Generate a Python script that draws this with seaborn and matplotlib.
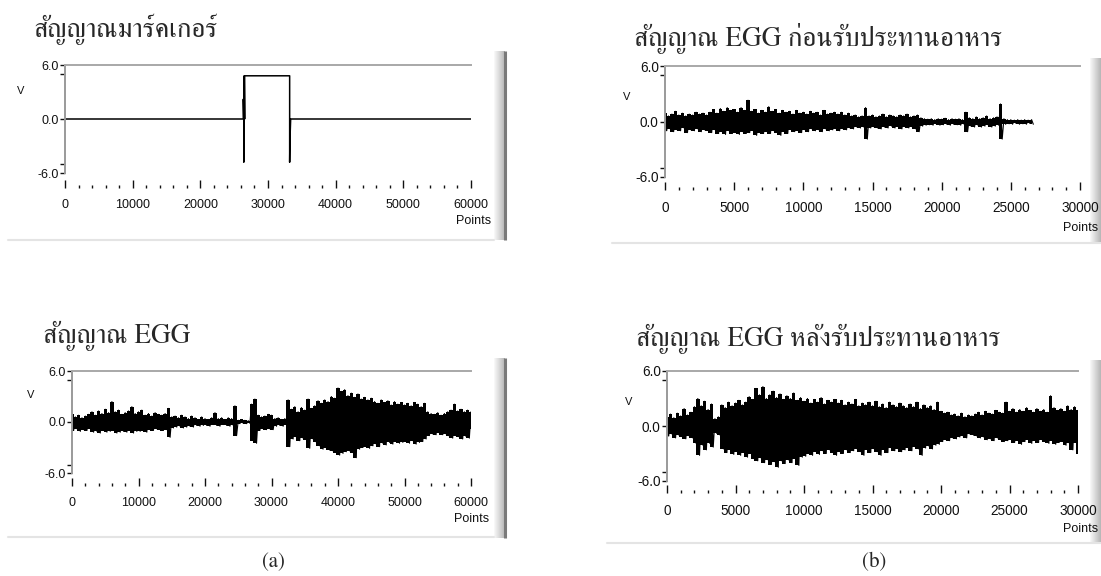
import numpy as np
import matplotlib
matplotlib.use("Agg")
import matplotlib.pyplot as plt
import seaborn as sns
from matplotlib.ticker import MultipleLocator, FixedLocator, FormatStrFormatter

# ---- data ----
# marker signal (volts) with its sample index
marker_x = [0, 26350, 26350, 26420, 26420, 26480, 26550, 26550, 33200, 33200, 33280, 33280, 33350, 60000]
marker_y = [0, 0, 2.2, 0, -4.8, 4.8, 0, 4.8, 4.8, -4.8, 0, -1.5, 0, 0]

# EGG whole recording: upper / lower peaks every 500 points
egg_step = 500
egg_hi = [0.9, 0.6, 0.8, 0.5, 0.7, 0.9, 1.2, 0.8, 1.3, 1.0,
          1.5, 1.1, 2.4, 1.2, 1.4, 0.9, 1.1, 1.3, 1.8, 1.0,
          1.2, 1.4, 0.8, 1.0, 0.7, 1.1, 0.9, 0.8, 1.0, 1.6,
          0.6, 0.7, 0.5, 0.8, 0.6, 0.4, 0.7, 0.5, 0.3, 0.6,
          0.4, 0.3, 0.5, 1.1, 0.4, 0.5, 0.3, 0.5, 0.4, 1.9,
          0.2, 0.3, 0.2, 0.15, 2.1, 2.7, 0.8, 0.6, 0.7, 0.9,
          0.8, 0.4, 0.5, 0.3, 0.4, 2.6, 1.5, 1.8, 1.2, 1.7,
          1.4, 2.7, 1.6, 1.9, 2.5, 2.2, 2.6, 2.4, 3.0, 2.8,
          4.0, 3.6, 3.8, 3.1, 3.4, 2.9, 3.3, 2.7, 2.9, 2.6,
          2.8, 2.4, 2.2, 2.6, 2.3, 2.5, 2.0, 2.4, 2.1, 2.3,
          2.0, 2.2, 1.9, 2.3, 2.1, 1.8, 2.2, 1.2, 1.0, 0.9,
          1.1, 0.8, 1.0, 1.2, 1.4, 2.1, 1.3, 1.5, 1.2, 1.4,
          1.2]
egg_lo = [-1.0, -0.8, -1.1, -0.9, -1.0, -0.8, -1.2, -1.1, -1.3, -1.0,
          -1.2, -1.1, -1.0, -1.3, -1.2, -1.1, -1.2, -1.0, -1.3, -1.1,
          -1.1, -1.0, -1.2, -0.9, -1.0, -0.8, -0.9, -1.0, -0.9, -1.8,
          -0.7, -0.6, -0.5, -0.7, -0.6, -0.5, -0.6, -0.4, -0.5, -0.4,
          -0.4, -0.5, -0.3, -0.4, -0.5, -0.3, -0.4, -0.5, -0.4, -1.6,
          -0.2, -0.15, -0.2, -0.15, -2.2, -2.5, -1.0, -0.8, -0.9, -0.8,
          -0.9, -0.5, -0.4, -0.5, -0.3, -2.9, -2.0, -1.8, -2.2, -1.9,
          -2.1, -3.1, -2.0, -2.4, -2.8, -3.2, -3.0, -3.3, -3.4, -3.6,
          -3.9, -3.7, -3.5, -3.4, -3.6, -4.2, -3.2, -3.0, -2.9, -3.1,
          -2.8, -2.6, -2.9, -2.5, -2.7, -2.4, -2.6, -2.3, -2.5, -2.4,
          -2.3, -2.5, -2.2, -2.6, -2.4, -2.3, -2.0, -1.6, -1.4, -1.5,
          -1.3, -1.5, -1.4, -1.7, -1.9, -1.6, -1.8, -2.0, -1.7, -1.9,
          -0.8]

# EGG before meal: peaks every 250 points
pre_step = 250
pre_hi = [0.9, 0.6, 0.8, 1.1, 0.7, 0.9, 0.6, 0.8, 0.7, 1.0,
          0.8, 0.9, 0.7, 1.0, 1.3, 0.9, 1.4, 1.1, 1.5, 1.2,
          1.3, 1.0, 1.5, 1.2, 2.3, 1.1, 1.3, 0.9, 1.2, 1.0,
          1.6, 1.1, 1.3, 0.9, 1.2, 1.0, 1.1, 0.8, 1.2, 0.9,
          1.0, 0.8, 1.1, 0.9, 1.0, 0.7, 1.2, 0.8, 0.9, 1.0,
          0.8, 1.0, 0.7, 0.9, 0.6, 0.7, 0.5, 0.6, 1.5, 0.6,
          0.7, 0.5, 0.6, 0.8, 0.5, 0.7, 0.6, 0.5, 0.7, 0.6,
          0.8, 0.5, 0.6, 0.7, 0.4, 0.3, 0.25, 0.3, 0.2, 0.3,
          0.25, 0.35, 0.2, 0.3, 0.25, 0.3, 0.2, 1.0, 0.4, 0.3,
          0.5, 0.3, 0.4, 0.6, 0.3, 0.4, 0.5, 1.9, 0.3, 0.2,
          0.2, 0.15, 0.2, 0.15, 0.2, 0.15, 0.2]
pre_lo = [-1.0, -0.8, -1.1, -0.9, -1.0, -0.7, -1.2, -0.9, -1.0, -0.8,
          -1.1, -0.9, -1.0, -1.2, -0.9, -1.3, -1.1, -1.4, -1.0, -1.3,
          -1.2, -1.4, -1.1, -1.3, -1.2, -1.0, -1.5, -1.2, -1.3, -1.1,
          -1.3, -1.0, -1.2, -1.5, -1.1, -1.3, -0.9, -1.1, -1.0, -1.2,
          -0.9, -1.1, -0.8, -1.0, -0.9, -1.1, -0.8, -1.0, -0.9, -0.8,
          -1.0, -0.8, -0.9, -0.7, -0.8, -0.6, -0.7, -0.6, -1.9, -0.7,
          -0.6, -0.7, -0.8, -0.6, -0.7, -0.5, -0.7, -0.6, -0.8, -0.6,
          -0.7, -0.6, -0.8, -1.1, -0.5, -0.4, -0.35, -0.4, -0.3, -0.4,
          -0.35, -0.3, -0.4, -0.3, -0.35, -0.4, -0.3, -1.1, -0.5, -0.6,
          -0.4, -0.6, -0.5, -0.4, -0.6, -0.5, -0.4, -1.9, -0.3, -0.25,
          -0.3, -0.2, -0.3, -0.25, -0.3, -0.2, -0.3]

# EGG after meal: peaks every 250 points
post_step = 250
post_hi = [1.0, 1.3, 0.9, 1.4, 1.1, 1.9, 1.2, 1.5, 2.1, 3.0,
           2.2, 2.7, 1.8, 2.4, 0.8, 1.0, 2.3, 2.0, 2.6, 2.2,
           2.5, 2.8, 2.3, 2.6, 3.2, 2.9, 4.1, 3.4, 4.3, 3.0,
           3.4, 3.8, 3.1, 3.5, 2.9, 3.3, 3.0, 3.6, 2.8, 3.1,
           2.7, 3.0, 2.5, 2.9, 2.6, 3.1, 2.4, 2.8, 2.6, 2.9,
           2.5, 2.8, 2.3, 2.6, 2.4, 2.9, 2.2, 2.5, 2.3, 2.6,
           2.2, 2.7, 2.1, 2.4, 2.0, 2.6, 2.3, 2.1, 2.5, 2.2,
           2.0, 2.4, 2.1, 2.6, 1.9, 2.3, 2.0, 2.2, 1.8, 2.6,
           1.6, 1.4, 1.5, 1.2, 1.3, 1.1, 1.4, 1.0, 1.2, 1.1,
           1.3, 1.5, 1.2, 1.6, 1.4, 1.3, 1.7, 1.5, 1.4, 2.6,
           1.6, 1.9, 1.5, 1.8, 1.6, 2.0, 1.7, 1.5, 1.9, 1.6,
           1.8, 1.5, 3.3, 2.0, 1.7, 1.9, 1.6, 2.2, 1.8, 2.1,
           1.7]
post_lo = [-1.1, -0.9, -1.3, -1.0, -1.2, -1.4, -1.1, -1.3, -1.9, -3.2,
           -2.1, -2.6, -1.9, -2.3, -0.8, -1.0, -2.5, -2.9, -2.6, -3.1,
           -2.8, -3.2, -2.9, -3.4, -3.0, -3.6, -3.8, -3.5, -4.0, -3.7,
           -4.2, -3.9, -4.5, -3.8, -4.1, -3.7, -4.0, -3.6, -4.3, -3.4,
           -3.3, -3.0, -3.2, -2.8, -3.1, -2.7, -3.0, -2.6, -2.9, -3.2,
           -2.8, -3.0, -2.6, -2.9, -2.7, -2.5, -2.8, -3.2, -2.6, -2.9,
           -2.5, -2.8, -3.2, -2.6, -2.9, -2.4, -2.7, -2.5, -2.8, -2.6,
           -2.4, -2.7, -2.3, -2.5, -3.2, -2.4, -2.2, -2.5, -2.1, -2.0,
           -1.7, -1.5, -1.6, -1.3, -1.4, -1.2, -1.1, -1.3, -0.9, -1.0,
           -1.1, -1.3, -1.2, -1.5, -1.4, -1.6, -1.3, -1.5, -1.7, -1.6,
           -1.5, -1.8, -1.6, -2.0, -1.7, -1.5, -1.9, -1.6, -1.8, -1.5,
           -1.7, -1.9, -1.6, -2.0, -1.8, -1.7, -2.1, -1.9, -2.6, -1.8,
           -3.0]

titles = ["สัญญาณมาร์คเกอร์", "สัญญาณ EGG ก่อนรับประทานอาหาร",
          "สัญญาณ EGG", "สัญญาณ EGG หลังรับประทานอาหาร"]
captions = ["(a)", "(b)"]

sns.set_style("white")
plt.rcParams["font.family"] = ["Liberation Sans", "DejaVu Sans"]
title_family = ["FreeSerif", "DejaVu Sans"]

W, H = 1101, 576
fig = plt.figure(figsize=(W / 100, H / 100), dpi=100)
bg = fig.add_axes([0, 0, 1, 1], zorder=-1)
bg.set_xlim(0, W)
bg.set_ylim(H, 0)
bg.axis("off")


def zigzag(hi, lo, step):
    n = len(hi)
    x = np.empty(2 * n)
    y = np.empty(2 * n)
    x[0::2] = np.arange(n) * step
    x[1::2] = np.arange(n) * step + step / 2
    y[0::2] = hi
    y[1::2] = lo
    return x, y


def panel(x0, x1, ytop, ybot, xmax, major, fs, tickoff):
    ax = fig.add_axes([x0 / W, 1 - ybot / H, (x1 - x0) / W, (ybot - ytop) / H])
    ax.set_xlim(0, xmax)
    ax.set_ylim(-6, 6)
    ax.set_facecolor("none")
    for s in ["right", "bottom"]:
        ax.spines[s].set_visible(False)
    ax.spines["bottom"].set_position(("outward", tickoff))
    ax.spines["top"].set_color("#a8a8a8")
    ax.spines["top"].set_linewidth(1.4)
    ax.spines["left"].set_color("#9a9a9a")
    ax.spines["left"].set_linewidth(1.4)
    ax.xaxis.set_major_locator(MultipleLocator(major))
    ax.xaxis.set_minor_locator(MultipleLocator(major / 5))
    ax.yaxis.set_major_locator(FixedLocator([-6, 0, 6]))
    ax.yaxis.set_minor_locator(FixedLocator([-5, 5]))
    ax.yaxis.set_major_formatter(FormatStrFormatter("%.1f"))
    ax.tick_params(axis="x", which="major", direction="in", length=5.5, width=1,
                   pad=8, labelsize=fs, colors="#111111", bottom=True)
    ax.tick_params(axis="x", which="minor", direction="in", length=2.2, width=1,
                   bottom=True, color="#111111")
    ax.tick_params(axis="y", which="both", direction="out", length=3.5, width=1,
                   pad=1, labelsize=fs, colors="#111111", left=True)
    return ax


def noisy(ax, hi, lo, step):
    # one column per read peak pair, plus the peak-to-peak trace on top
    xs = np.arange(len(hi)) * step
    ax.fill_between(xs, lo, hi, step="mid", color="black", linewidth=0)
    zx, zy = zigzag(hi, lo, step)
    sns.lineplot(x=zx, y=zy, estimator=None, sort=False, color="black",
                 linewidth=0.8, ax=ax)


# panel A top: marker
ax1 = panel(65, 471, 65, 173, 60000, 10000, 9, 10.5)
sns.lineplot(x=marker_x, y=marker_y, estimator=None, sort=False, color="black",
             linewidth=1.1, ax=ax1)

# panel B top: EGG before meal
ax2 = panel(665, 1080, 66, 177, 30000, 5000, 9.8, 9)
noisy(ax2, pre_hi, pre_lo, pre_step)

# panel A bottom: EGG
ax3 = panel(72, 471, 371, 473, 60000, 10000, 9, 9.5)
noisy(ax3, egg_hi, egg_lo, egg_step)

# panel B bottom: EGG after meal
ax4 = panel(667, 1078, 371, 481, 30000, 5000, 9.8, 8.5)
noisy(ax4, post_hi, post_lo, post_step)

for ax in [ax1, ax2, ax3, ax4]:
    ax.set_xlabel("")
    ax.set_ylabel("")

# frame decoration (LabVIEW style panel edges)
grad = np.linspace(0.97, 0.72, 12).reshape(1, -1)
for (bx0, bx1, by0, by1) in [(494, 505, 51, 240), (494, 505, 358, 538),
                             (1090, 1101, 58, 243), (1090, 1101, 360, 544)]:
    bg.imshow(grad, extent=[bx0, bx1, by1, by0], cmap="gray", vmin=0, vmax=1,
              aspect="auto", interpolation="bilinear")
    if bx1 < 1000:
        bg.plot([bx1, bx1], [by0, by1], color="#7a7a7a", lw=2.2, solid_capstyle="butt")
for (lx0, lx1, ly) in [(8, 494, 240), (8, 494, 537), (612, 1101, 243), (607, 1101, 543)]:
    bg.plot([lx0, lx1], [ly, ly], color="#e4e4e4", lw=1.5)
bg.set_xlim(0, W)
bg.set_ylim(H, 0)

# texts
tfs = 19.5
bg.text(33, 37, titles[0], family=title_family, fontsize=tfs, va="baseline", ha="left")
bg.text(634, 46, titles[1], family=title_family, fontsize=tfs, va="baseline", ha="left")
bg.text(43, 343, titles[2], family=title_family, fontsize=tfs, va="baseline", ha="left")
bg.text(636, 346, titles[3], family=title_family, fontsize=tfs, va="baseline", ha="left")

for (vx, vy) in [(21, 91), (627, 97), (31, 395), (629, 402)]:
    bg.text(vx, vy, "V", fontsize=8, ha="center", va="center", color="#111111")
for (rx, ry) in [(491, 221), (1098, 228), (489, 519), (1098, 529)]:
    bg.text(rx, ry, "Points", fontsize=9, ha="right", va="center", color="#111111")

bg.text(273, 562, captions[0], family=["FreeSerif"], fontsize=15, ha="center", va="center")
bg.text(874, 562, captions[1], family=["FreeSerif"], fontsize=15, ha="center", va="center")

fig.savefig("out.png", dpi=100)
